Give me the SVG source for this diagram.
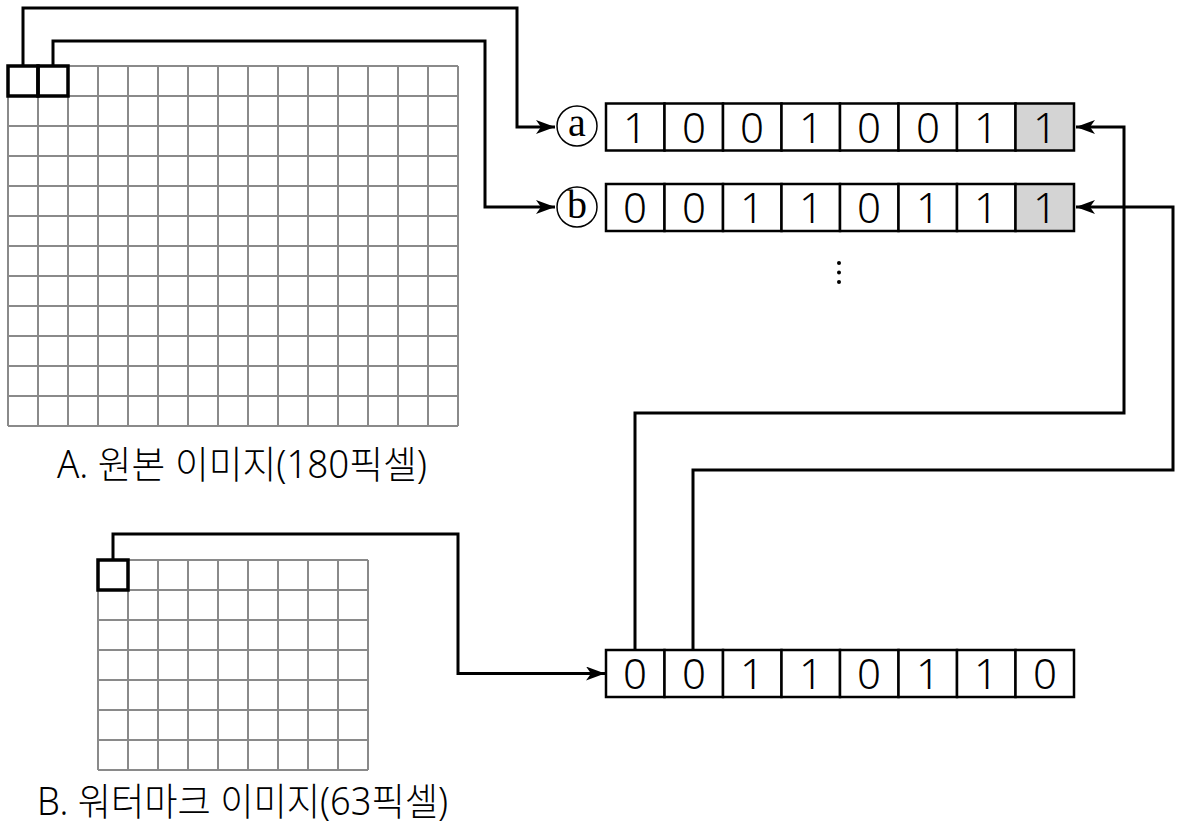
<svg xmlns="http://www.w3.org/2000/svg" width="1181" height="827" viewBox="0 0 1181 827">
<style>
.grid{stroke:#8a8a8a;stroke-width:2;fill:none}
.sel{stroke:#000;stroke-width:3.5;fill:none}
.cell{stroke:#000;stroke-width:2.5;fill:#fff}
.gcell{stroke:#000;stroke-width:2.5;fill:#d4d4d4}
.conn{stroke:#000;stroke-width:3;fill:none}
.dig{font-family:"Noto Sans","Noto Sans CJK KR",sans-serif;font-weight:300;font-size:42px;text-anchor:middle;fill:#000}
.lbl{font-family:"Noto Sans","Noto Sans CJK KR",sans-serif;font-weight:300;font-size:38px;fill:#000}
.circ{fill:#fff;stroke:#000;stroke-width:1.5}
.let{font-family:"Liberation Serif",serif;font-size:40px;text-anchor:middle;fill:#000}
</style>
<defs>
<marker id="arr" markerUnits="userSpaceOnUse" markerWidth="20" markerHeight="14" refX="19" refY="7" orient="auto">
<path d="M0,0 L19,7 L0,14 L5,7 z" fill="#000"/>
</marker>
</defs>

<g id="original-image">
<path class="grid" d="M8,66V426M38,66V426M68,66V426M98,66V426M128,66V426M158,66V426M188,66V426M218,66V426M248,66V426M278,66V426M308,66V426M338,66V426M368,66V426M398,66V426M428,66V426M458,66V426M8,66H458M8,96H458M8,126H458M8,156H458M8,186H458M8,216H458M8,246H458M8,276H458M8,306H458M8,336H458M8,366H458M8,396H458M8,426H458"/>
<rect class="sel" x="8" y="66" width="30" height="30"/>
<rect class="sel" x="38" y="66" width="30" height="30"/>
<text class="lbl" x="57" y="478" textLength="370" lengthAdjust="spacingAndGlyphs">A. 원본 이미지(180픽셀)</text>
</g>

<g id="watermark-image">
<path class="grid" d="M98,560V770M128,560V770M158,560V770M188,560V770M218,560V770M248,560V770M278,560V770M308,560V770M338,560V770M368,560V770M98,560H368M98,590H368M98,620H368M98,650H368M98,680H368M98,710H368M98,740H368M98,770H368"/>
<rect class="sel" x="98" y="560" width="30" height="30"/>
<text class="lbl" x="37" y="815" textLength="411" lengthAdjust="spacingAndGlyphs">B. 워터마크 이미지(63픽셀)</text>
</g>

<g id="row-a">
<circle class="circ" cx="577" cy="126" r="20"/>
<text class="let" x="577" y="136">a</text>
<rect class="cell" x="606" y="103.5" width="58.5" height="47"/>
<rect class="cell" x="664.5" y="103.5" width="58.5" height="47"/>
<rect class="cell" x="723" y="103.5" width="58.5" height="47"/>
<rect class="cell" x="781.5" y="103.5" width="58.5" height="47"/>
<rect class="cell" x="840" y="103.5" width="58.5" height="47"/>
<rect class="cell" x="898.5" y="103.5" width="58.5" height="47"/>
<rect class="cell" x="957" y="103.5" width="58.5" height="47"/>
<rect class="gcell" x="1015.5" y="103.5" width="58.5" height="47"/>
<text class="dig" y="142.5"><tspan x="635">1</tspan><tspan x="694">0</tspan><tspan x="752">0</tspan><tspan x="811">1</tspan><tspan x="869">0</tspan><tspan x="928">0</tspan><tspan x="986">1</tspan><tspan x="1045">1</tspan></text>
</g>

<g id="row-b">
<circle class="circ" cx="577" cy="207" r="20"/>
<text class="let" x="577" y="218">b</text>
<rect class="cell" x="606" y="184" width="58.5" height="47"/>
<rect class="cell" x="664.5" y="184" width="58.5" height="47"/>
<rect class="cell" x="723" y="184" width="58.5" height="47"/>
<rect class="cell" x="781.5" y="184" width="58.5" height="47"/>
<rect class="cell" x="840" y="184" width="58.5" height="47"/>
<rect class="cell" x="898.5" y="184" width="58.5" height="47"/>
<rect class="cell" x="957" y="184" width="58.5" height="47"/>
<rect class="gcell" x="1015.5" y="184" width="58.5" height="47"/>
<text class="dig" y="223"><tspan x="635">0</tspan><tspan x="694">0</tspan><tspan x="752">1</tspan><tspan x="811">1</tspan><tspan x="869">0</tspan><tspan x="928">1</tspan><tspan x="986">1</tspan><tspan x="1045">1</tspan></text>
</g>

<g id="ellipsis">
<circle cx="839" cy="263" r="2"/>
<circle cx="839" cy="272.5" r="2"/>
<circle cx="839" cy="282" r="2"/>
</g>

<g id="watermark-bits">
<rect class="cell" x="606" y="650" width="58.5" height="47"/>
<rect class="cell" x="664.5" y="650" width="58.5" height="47"/>
<rect class="cell" x="723" y="650" width="58.5" height="47"/>
<rect class="cell" x="781.5" y="650" width="58.5" height="47"/>
<rect class="cell" x="840" y="650" width="58.5" height="47"/>
<rect class="cell" x="898.5" y="650" width="58.5" height="47"/>
<rect class="cell" x="957" y="650" width="58.5" height="47"/>
<rect class="cell" x="1015.5" y="650" width="58.5" height="47"/>
<text class="dig" y="689"><tspan x="635">0</tspan><tspan x="694">0</tspan><tspan x="752">1</tspan><tspan x="811">1</tspan><tspan x="869">0</tspan><tspan x="928">1</tspan><tspan x="986">1</tspan><tspan x="1045">0</tspan></text>
</g>

<g id="connectors">
<path class="conn" d="M23,66V8H517V127H555" marker-end="url(#arr)"/>
<path class="conn" d="M53,66V41H485V207H555" marker-end="url(#arr)"/>
<path class="conn" d="M113,560V534H458V673.5H605" marker-end="url(#arr)"/>
<path class="conn" d="M635,650V413H1124V127H1076" marker-end="url(#arr)"/>
<path class="conn" d="M693,650V470H1173V207H1076" marker-end="url(#arr)"/>
</g>
</svg>
